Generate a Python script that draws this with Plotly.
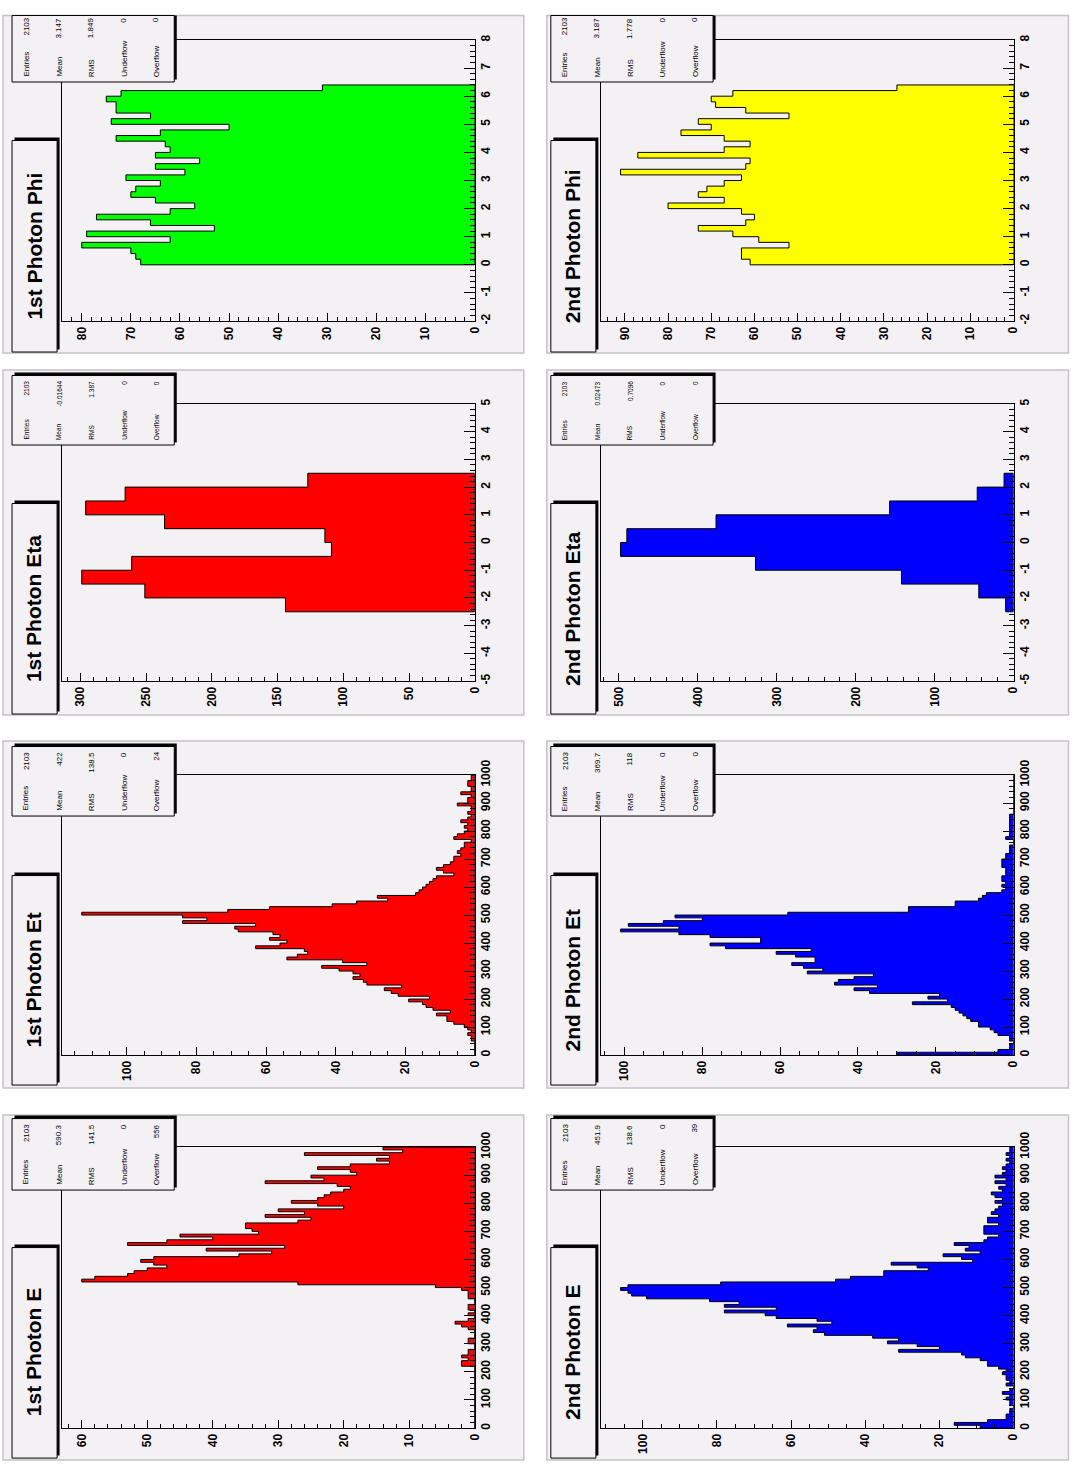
import numpy as np
import plotly.graph_objects as go

W, H = 1076, 1468

# ---------------- data (bin contents) ----------------
phi1 = [68, 69, 70, 80, 62, 79, 53, 66, 77, 62, 57, 65, 70, 69, 64, 71, 59, 65, 56, 65,
        62, 63, 73, 64, 50, 74, 66, 73, 73, 75, 72, 31]
phi2 = [61, 63, 63, 52, 59, 65, 73, 62, 60, 63, 80, 67, 73, 71, 67, 63, 91, 62, 61, 87,
        67, 61, 67, 77, 70, 73, 52, 62, 69, 70, 65, 27]
eta1 = [144, 251, 299, 261, 109, 114, 236, 296, 266, 127]
eta2 = [10, 44, 142, 327, 498, 490, 377, 157, 46, 12]
et1 = [0, 0, 0, 0, 0, 1, 1, 2, 1, 2,
       3, 6, 8, 8, 11, 7, 12, 14, 15, 19,
       13, 22, 24, 26, 21, 31, 32, 35, 33, 35,
       39, 44, 31, 38, 54, 51, 48, 49, 63, 56,
       54, 59, 56, 58, 68, 69, 63, 84, 77, 84,
       113, 71, 59, 41, 34, 25, 28, 17, 16, 15,
       14, 13, 12, 11, 6, 9, 11, 9, 7, 6,
       6, 4, 5, 4, 3, 3, 1, 6, 5, 3,
       2, 3, 2, 4, 2, 1, 2, 1, 1, 5,
       2, 2, 1, 4, 1, 1, 2, 2, 1, 1]
et2 = [30, 4, 1, 1, 0, 1, 1, 4, 5, 6,
       9, 9, 11, 12, 13, 14, 15, 16, 26, 17,
       22, 19, 37, 41, 35, 46, 45, 41, 36, 53,
       49, 54, 57, 51, 51, 56, 61, 52, 74, 78,
       65, 65, 78, 86, 101, 86, 99, 90, 80, 87,
       58, 27, 27, 15, 15, 9, 8, 7, 3, 2,
       3, 2, 3, 3, 2, 2, 2, 3, 3, 3,
       2, 2, 1, 1, 1, 0, 0, 2, 1, 1,
       1, 1, 1, 1, 1, 1, 0, 0, 0, 0,
       0, 0, 0, 0, 0, 0, 0, 0, 0, 0]
e1 = [0, 0, 0, 0, 0, 0, 0, 0, 0, 0,
      0, 0, 0, 0, 0, 0, 0, 0, 0, 0,
      0, 0, 2, 2, 1, 2, 1, 1, 0, 0,
      1, 1, 0, 0, 0, 1, 2, 3, 1, 0,
      1, 0, 1, 1, 0, 0, 1, 1, 1, 2,
      6, 27, 60, 58, 53, 52, 50, 47, 49, 51,
      49, 36, 31, 41, 29, 53, 47, 40, 45, 33,
      34, 35, 35, 27, 25, 32, 26, 30, 20, 24,
      28, 24, 23, 22, 20, 19, 21, 32, 23, 25,
      18, 19, 24, 19, 13, 15, 13, 26, 11, 14]
e2 = [9, 16, 7, 2, 2, 1, 1, 0, 1, 1,
      2, 1, 3, 1, 0, 2, 1, 2, 2, 3,
      2, 4, 7, 7, 9, 13, 14, 31, 20, 26,
      34, 31, 38, 51, 54, 53, 61, 49, 53, 64,
      67, 78, 64, 78, 74, 82, 99, 103, 104, 106,
      104, 79, 48, 44, 35, 35, 23, 26, 33, 11,
      14, 19, 9, 13, 12, 16, 8, 7, 4, 8,
      8, 8, 4, 7, 7, 4, 6, 5, 4, 3,
      5, 3, 5, 6, 3, 4, 2, 5, 2, 5,
      3, 2, 3, 2, 1, 2, 1, 2, 1, 1]

titles = ["1st Photon Phi", "2nd Photon Phi", "1st Photon Eta", "2nd Photon Eta",
          "1st Photon Et", "2nd Photon Et", "1st Photon E", "2nd Photon E"]
stat_names = ["Entries", "Mean", "RMS", "Underflow", "Overflow"]
stat_values = [["2103", "3.147", "1.849", "0", "0"],
               ["2103", "3.187", "1.778", "0", "0"],
               ["2103", "-0.01644", "1.387", "0", "0"],
               ["2103", "0.02473", "0.7096", "0", "0"],
               ["2103", "422", "138.5", "0", "24"],
               ["2103", "369.7", "118", "0", "0"],
               ["2103", "590.3", "141.5", "0", "556"],
               ["2103", "451.9", "138.6", "0", "39"]]
phi_ticks = [-2, -1, 0, 1, 2, 3, 4, 5, 6, 7, 8]
eta_ticks = [-5, -4, -3, -2, -1, 0, 1, 2, 3, 4, 5]

# ---------------- panel settings ----------------
GREEN, RED, BLUE, YELLOW = "#00ff00", "#ff0000", "#0000ff", "#ffff00"
panels = [
    dict(d=phi1, lo=0.0, w=0.2, vr=[-2, 8], vt=phi_ticks, vminor=0.2, cd=10, cm=2, col=GREEN, sf=8),
    dict(d=phi2, lo=0.0, w=0.2, vr=[-2, 8], vt=phi_ticks, vminor=0.2, cd=10, cm=2, col=YELLOW, sf=8),
    dict(d=eta1, lo=-2.5, w=0.5, vr=[-5, 5], vt=eta_ticks, vminor=0.2, cd=50, cm=10, col=RED, sf=6.5),
    dict(d=eta2, lo=-2.5, w=0.5, vr=[-5, 5], vt=eta_ticks, vminor=0.2, cd=100, cm=20, col=BLUE, sf=6.5),
    dict(d=et1, lo=0.0, w=10.0, vr=[0, 1000], vt=None, vminor=20, cd=20, cm=5, col=RED, sf=8),
    dict(d=et2, lo=0.0, w=10.0, vr=[0, 1000], vt=None, vminor=20, cd=20, cm=5, col=BLUE, sf=8),
    dict(d=e1, lo=0.0, w=10.0, vr=[0, 1000], vt=None, vminor=20, cd=10, cm=2, col=RED, sf=8),
    dict(d=e2, lo=0.0, w=10.0, vr=[0, 1000], vt=None, vminor=20, cd=20, cm=5, col=BLUE, sf=8),
]

# geometry in (target picture) pixels
COL = [dict(pad=(3, 523), frame=(62, 474), title=(12, 57), stats=(12, 174)),
       dict(pad=(546, 1068), frame=(600, 1012), title=(550, 595), stats=(550, 712))]
ROW = [dict(pad=(3, 350), frame=(37, 318), title=(137, 349), stats=(8, 79)),
       dict(pad=(367, 712), frame=(401, 678), title=(500, 711), stats=(372, 442)),
       dict(pad=(738, 1085), frame=(772, 1052), title=(872, 1082), stats=(743, 813)),
       dict(pad=(1112, 1457), frame=(1144, 1425), title=(1244, 1455), stats=(1115, 1187))]

PADC = "#f4f1f4"
FONT = "Liberation Sans, Arial, sans-serif"

# the returned snapshot shows the page slightly shrunk and shifted down; pre-compensate
SX, SY, OY = 0.992, 0.987, 12.0


def fx(x):
    return min(max(x / SX, 0.5), W - 0.5) / W


def fy(y):
    return 1 - min(max((y - OY) / SY, 0.5), H - 0.5) / H


fig = go.Figure()
shapes, annos = [], []
layout = {}

for k, p in enumerate(panels):
    c, r = COL[k % 2], ROW[k // 2]
    i = k + 1
    xa, ya = ("x", "y") if i == 1 else (f"x{i}", f"y{i}")
    counts = np.array(p["d"], dtype=float)
    edges = p["lo"] + p["w"] * np.arange(len(counts) + 1)
    xs, ys = [0.0], [edges[0]]
    for j, v in enumerate(counts):
        xs += [v, v]
        ys += [edges[j], edges[j + 1]]
    xs += [0.0, 0.0]
    ys += [edges[-1], edges[0]]
    fig.add_trace(go.Scatter(x=xs, y=ys, xaxis=xa, yaxis=ya, mode="lines",
                             fill="toself", fillcolor=p["col"],
                             line=dict(color="black", width=1),
                             hoverinfo="skip", showlegend=False))
    cmax = 1.05 * counts.max()
    tickfont = dict(family=FONT, size=12, color="black", weight="bold")
    layout[f"xaxis{i}"] = dict(
        domain=[fx(c["frame"][0]), fx(c["frame"][1])], range=[cmax, 0], anchor=ya,
        tick0=0, dtick=p["cd"], ticks="inside", ticklen=8, tickcolor="black",
        minor=dict(tick0=0, dtick=p["cm"], ticks="inside", ticklen=4, tickcolor="black", showgrid=False),
        showgrid=False, zeroline=False, showline=True, mirror=True, linecolor="black", linewidth=1,
        tickangle=-90, tickfont=tickfont, fixedrange=True)
    ydict = dict(
        domain=[fy(r["frame"][1]), fy(r["frame"][0])], range=p["vr"], anchor=xa, side="right",
        ticks="inside", ticklen=11, tickcolor="black",
        minor=dict(dtick=p["vminor"], ticks="inside", ticklen=5, tickcolor="black", showgrid=False),
        showgrid=False, zeroline=False, showline=True, mirror=True, linecolor="black", linewidth=1,
        tickangle=-90, tickfont=tickfont, fixedrange=True)
    if p["vt"] is not None:
        ydict.update(tickmode="array", tickvals=p["vt"], ticktext=[str(t) for t in p["vt"]])
    else:
        ydict.update(tick0=0, dtick=100)
    layout[f"yaxis{i}"] = ydict

    # pad
    shapes.append(dict(type="rect", xref="paper", yref="paper", layer="below",
                       x0=fx(c["pad"][0]), x1=fx(c["pad"][1]), y0=fy(r["pad"][1]), y1=fy(r["pad"][0]),
                       fillcolor=PADC, line=dict(color="#c4c4c4", width=1.5)))
    # stats box and title box with shadow
    for box, name in ((c["stats"], "s"), (c["title"], "t")):
        yy = r["stats"] if name == "s" else r["title"]
        shapes.append(dict(type="rect", xref="paper", yref="paper", layer="above",
                           x0=fx(box[0] + 2.5), x1=fx(box[1] + 2.5),
                           y0=fy(yy[1] - 2.5), y1=fy(yy[0] - 2.5),
                           fillcolor="black", line=dict(width=0)))
        shapes.append(dict(type="rect", xref="paper", yref="paper", layer="above",
                           x0=fx(box[0]), x1=fx(box[1]), y0=fy(yy[1]), y1=fy(yy[0] + 0.5),
                           fillcolor=PADC, line=dict(color="black", width=1)))
    # title
    annos.append(dict(xref="paper", yref="paper", showarrow=False, textangle=-90,
                      x=fx((c["title"][0] + c["title"][1]) / 2 - 1),
                      y=fy((r["title"][0] + r["title"][1]) / 2),
                      xanchor="center", yanchor="middle", text=titles[k],
                      font=dict(family=FONT, size=21, color="black", weight="bold")))
    # stats text
    for s in range(5):
        xcol = c["stats"][0] + 14 + 32.5 * s
        annos.append(dict(xref="paper", yref="paper", showarrow=False, textangle=-90,
                          x=fx(xcol), y=fy(r["stats"][1] - 3), xanchor="center", yanchor="bottom",
                          text=stat_names[s], font=dict(family=FONT, size=p["sf"], color="black")))
        annos.append(dict(xref="paper", yref="paper", showarrow=False, textangle=-90,
                          x=fx(xcol), y=fy(r["stats"][0] + 4), xanchor="center", yanchor="top",
                          text=stat_values[k][s], font=dict(family=FONT, size=p["sf"], color="black")))

fig.update_layout(width=W, height=H, margin=dict(l=0, r=0, t=0, b=0),
                  paper_bgcolor="white", plot_bgcolor=PADC, showlegend=False,
                  shapes=shapes, annotations=annos, **layout)

fig.write_html(
    "out.html", config={"displayModeBar": False},
    post_script=("var gd=document.getElementById('{plot_id}');"
                 "gd.style.position='fixed';gd.style.top='0px';gd.style.left='0px';"
                 "document.body.style.margin='0';document.body.style.padding='0';"
                 "document.body.style.overflow='hidden';"
                 "document.documentElement.style.overflow='hidden';"))
